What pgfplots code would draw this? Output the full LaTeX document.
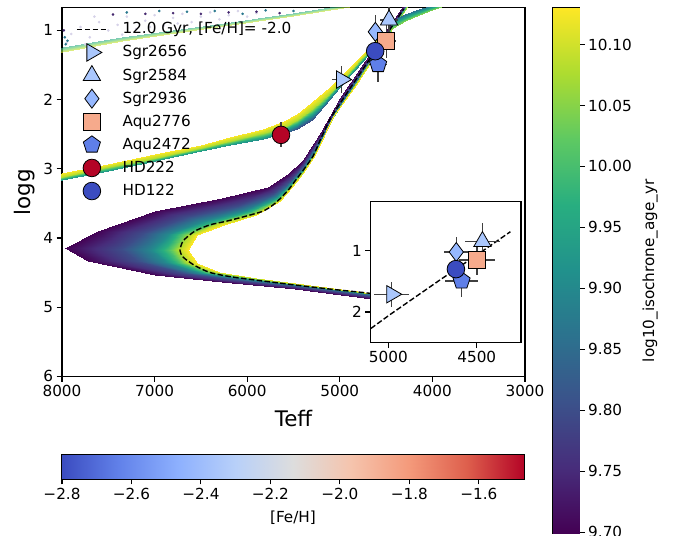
\documentclass[border=0pt]{standalone}
\usepackage{pgfplots}
\pgfplotsset{compat=1.18}
\usepackage{fontspec}
\setmainfont{DejaVu Sans}

\newcommand\fs{\fontsize{15.3}{18}\selectfont}
\newcommand\fl{\fontsize{21.5}{25}\selectfont}

\definecolor{sgrA}{RGB}{170,199,253}
\definecolor{sgrC}{RGB}{150,184,255}
\definecolor{aquA}{RGB}{246,170,140}
\definecolor{aquB}{RGB}{95,127,232}
\definecolor{hdA}{RGB}{180,4,38}
\definecolor{hdB}{RGB}{59,76,192}
\definecolor{errc}{RGB}{64,64,64}
\definecolor{faint}{RGB}{214,210,232}
\definecolor{vpur}{RGB}{68,40,110}
\definecolor{vteal}{RGB}{42,120,142}

\pgfplotsset{
  colormap={coolwarm}{rgb255=(59,76,192) rgb255=(98,130,234) rgb255=(141,176,254) rgb255=(184,208,249) rgb255=(221,221,221) rgb255=(245,196,173) rgb255=(244,154,123) rgb255=(222,96,77) rgb255=(180,4,38)},
  colormap={myviridis}{rgb255=(68,1,84) rgb255=(71,45,123) rgb255=(59,82,139) rgb255=(44,114,142) rgb255=(33,145,140) rgb255=(40,174,128) rgb255=(94,201,98) rgb255=(173,220,48) rgb255=(253,231,37)},
  myax/.style={scale only axis, axis line style={line width=1.1bp}, every tick/.style={line width=1.1bp, black}, major tick length=5.4bp, tick align=outside, tick label style={font=\fs}},
  errs/.style={error bars/x dir=both, error bars/x explicit, error bars/y dir=both, error bars/y explicit, error bars/error mark=none, error bars/error bar style={errc, line width=1.5bp}},
  mklegend/.style={legend image code/.code={\path[##1] plot coordinates {(0bp,0bp)};}},
  lnlegend/.style={legend image code/.code={\draw[##1] (-15bp,0bp) -- (15bp,0bp);}},
  isodash/.style={black, line width=1.4bp, dash pattern=on 5.5bp off 2.4bp},
}

\begin{document}
\begin{tikzpicture}
\path[use as bounding box] (0,0) rectangle (678bp,536bp);

% ---------------- main axis ----------------
\begin{axis}[myax,
  at={(62bp,159.7bp)}, anchor=south west, width=463bp, height=368.7bp,
  x dir=reverse, y dir=reverse,
  xmin=3000, xmax=8000, ymin=0.67, ymax=6,
  xtick={3000,4000,5000,6000,7000,8000}, xticklabels={3000,4000,5000,6000,7000,8000},
  ytick={1,2,3,4,5,6}, yticklabels={1,2,3,4,5,6},
  tick pos=left,
  colormap name=myviridis, point meta min=9.699, point meta max=10.13,
  xlabel={Teff}, ylabel={logg},
  every axis x label/.style={at={(axis description cs:0.5,0)}, yshift=-42bp, anchor=center, font=\fl},
  every axis y label/.style={at={(axis description cs:0,0.5)}, xshift=-37bp, rotate=90, anchor=center, font=\fl},
  legend style={draw=none, fill=none, at={(axis description cs:0,1)}, anchor=north west, xshift=14bp, yshift=-10bp, inner sep=0pt, row sep=0pt, font=\fs, nodes={inner sep=0pt, text height=16bp, text depth=7.1bp}, /tikz/every odd column/.append style={column sep=15bp}},
  legend cell align=left,
]
% isochrone band (MS, SGB, RGB)
\addplot[surf, shader=interp, forget plot, point meta=explicit] table[x=T, y=g, meta=a] {
T g a
4400 4.92 9.70
5484 4.74 9.70
6275 4.64 9.70
7000 4.53 9.70
7716 4.33 9.70
7968 4.15 9.70
7608 3.90 9.70
7000 3.61 9.70
6275 3.42 9.70
5772 3.27 9.70
5556 3.08 9.70
5400 2.88 9.70
5200 2.47 9.70
5000 1.98 9.70
4750 1.48 9.70
4520 1.05 9.70
4300 0.60 9.70

4400 4.88 9.80
5484 4.70 9.80
6103 4.61 9.80
6678 4.51 9.80
7175 4.34 9.80
7357 4.16 9.80
7117 3.93 9.80
6655 3.70 9.80
6103 3.54 9.80
5716 3.36 9.80
5539 3.17 9.80
5400 2.96 9.80
5232 2.62 9.80
5037 2.12 9.80
4787 1.62 9.80
4502 1.06 9.80
4268 0.59 9.80

4400 4.86 9.90
5484 4.68 9.90
6012 4.60 9.90
6510 4.50 9.90
6893 4.35 9.90
7038 4.17 9.90
6860 3.94 9.90
6475 3.75 9.90
6012 3.60 9.90
5687 3.41 9.90
5531 3.21 9.90
5400 3.01 9.90
5249 2.70 9.90
5056 2.19 9.90
4806 1.70 9.90
4492 1.06 9.90
4251 0.59 9.90

4400 4.85 10.00
5484 4.66 10.00
5960 4.59 10.00
6412 4.50 10.00
6728 4.36 10.00
6852 4.18 10.00
6711 3.95 10.00
6370 3.78 10.00
5960 3.63 10.00
5670 3.44 10.00
5526 3.24 10.00
5400 3.03 10.00
5259 2.75 10.00
5067 2.23 10.00
4817 1.74 10.00
4486 1.07 10.00
4241 0.58 10.00

4400 4.85 10.08
5484 4.66 10.08
5930 4.58 10.08
6356 4.49 10.08
6634 4.36 10.08
6746 4.18 10.08
6625 3.96 10.08
6310 3.79 10.08
5930 3.65 10.08
5660 3.45 10.08
5523 3.25 10.08
5400 3.05 10.08
5264 2.77 10.08
5074 2.25 10.08
4824 1.76 10.08
4483 1.07 10.08
4236 0.58 10.08

4400 4.84 10.13
5484 4.65 10.13
5900 4.58 10.13
6300 4.49 10.13
6540 4.36 10.13
6640 4.18 10.13
6540 3.96 10.13
6250 3.81 10.13
5900 3.67 10.13
5650 3.47 10.13
5520 3.27 10.13
5400 3.06 10.13
5270 2.80 10.13
5080 2.27 10.13
4830 1.79 10.13
4480 1.07 10.13
4230 0.58 10.13
};
% horizontal branch / AGB band
\addplot[surf, shader=interp, forget plot, point meta=explicit] table[x=T, y=g, meta=a] {
T g a
8050 3.08 10.13
7500 2.93 10.13
7000 2.79 10.13
6500 2.65 10.13
6186 2.54 10.13
5826 2.42 10.13
5600 2.31 10.13
5466 2.21 10.13
5300 2.04 10.13
5106 1.82 10.13
4950 1.62 10.13
4746 1.34 10.13
4600 1.12 10.13

8050 3.13 10.08
7500 2.98 10.08
7000 2.84 10.08
6500 2.70 10.08
6186 2.60 10.08
5826 2.49 10.08
5600 2.39 10.08
5466 2.30 10.08
5300 2.14 10.08
5106 1.90 10.08
4950 1.69 10.08
4746 1.39 10.08
4600 1.16 10.08

8050 3.18 9.92
7500 3.03 9.92
7000 2.89 9.92
6500 2.75 9.92
6186 2.65 9.92
5826 2.57 9.90
5600 2.49 9.85
5466 2.42 9.80
5300 2.30 9.80
5106 1.99 9.85
4950 1.75 9.90
4746 1.44 9.90
4600 1.19 9.90
};
% thin upper band
\addplot[surf, shader=interp, forget plot, opacity=0.6, point meta=explicit] table[x=T, y=g, meta=a] {
T g a
8050 1.33 10.10
7355 1.15 10.10
6400 0.97 10.10
5500 0.79 10.10
4900 0.66 10.10

8050 1.25 9.95
7355 1.09 9.95
6400 0.92 9.95
5500 0.75 9.95
4900 0.62 9.95
};
% RGB tip patch
\addplot[surf, shader=interp, forget plot, point meta=explicit] table[x=T, y=g, meta=a] {
T g a
4450 0.98 10.05
4300 0.86 10.05
4150 0.77 10.05
4000 0.70 10.05
3880 0.64 10.05

4450 0.86 9.85
4300 0.76 9.85
4150 0.69 9.85
4000 0.63 9.85
3880 0.58 9.85
};
% scattered points at top left
\addplot[only marks, mark=*, mark size=1.1bp, faint, forget plot] coordinates {
(7900,1.05) (7800,0.95) (7700,1.10) (7600,0.88) (7500,1.00) (7400,0.92) (7300,0.80) (7200,0.98) (7100,0.86) (7000,0.78) (6900,0.93) (6800,0.82) (6700,0.76) (6600,0.88) (6500,0.80) (6400,0.74) (6300,0.84) (6200,0.78) (6100,0.72) (6000,0.80) (5900,0.75) (7950,1.18) (7750,1.20) (7650,0.80) (7350,1.06) (7050,0.95) (6750,0.90)
};
\addplot[only marks, mark=*, mark size=1.1bp, vpur, forget plot] coordinates {
(7450,0.77) (7100,0.76) (6800,0.75) (6500,0.76) (6200,0.74) (5900,0.73) (5650,0.75) (7980,1.00)
};
\addplot[only marks, mark=*, mark size=1.1bp, vteal, forget plot] coordinates {
(7300,0.74) (6950,0.72) (6650,0.73) (6350,0.72) (6050,0.76) (5800,0.71) (5500,0.72) (7970,1.10) (7960,1.20) (7940,1.15)
};
% 12 Gyr isochrone
\addplot[isodash, smooth, tension=0.4, lnlegend] table[x=T, y=g] {
T g
4400 4.86
4674 4.80
5100 4.74
5484 4.68
6132 4.57
6400 4.50
6564 4.40
6690 4.28
6726 4.18
6690 4.04
6564 3.90
6400 3.81
6200 3.75
5844 3.62
5718 3.52
5620 3.40
5540 3.28
5480 3.17
5400 3.03
5290 2.82
5200 2.55
5100 2.27
4990 2.04
4850 1.76
4700 1.46
4500 1.07
4310 0.69
};
\addlegendentry{12.0 Gyr, [Fe/H]= -2.0}
\addplot[only marks, mark=triangle*, mark size=10bp, mark options={rotate=-90, fill=sgrA, draw=black, line width=0.8bp}, mklegend, errs] table[x=T, y=g, x error=dT, y error=dg] {
T g dT dg
4981 1.71 100 0.20
};
\addlegendentry{Sgr2656}
\addplot[only marks, mark=triangle*, mark size=10bp, mark options={fill=sgrA, draw=black, line width=0.8bp}, mklegend, errs] table[x=T, y=g, x error=dT, y error=dg] {
T g dT dg
4468 0.85 100 0.30
};
\addlegendentry{Sgr2584}
\addplot[only marks, mark=diamond*, mark size=9.5bp, mark options={fill=sgrC, draw=black, line width=0.8bp}, mklegend, errs] table[x=T, y=g, x error=dT, y error=dg] {
T g dT dg
4616 1.02 70 0.25
};
\addlegendentry{Sgr2936}
\addplot[only marks, mark=square*, mark size=8.5bp, mark options={fill=aquA, draw=black, line width=0.8bp}, mklegend, errs] table[x=T, y=g, x error=dT, y error=dg] {
T g dT dg
4498 1.15 100 0.25
};
\addlegendentry{Aqu2776}
\addplot[only marks, mark=pentagon*, mark size=9bp, mark options={fill=aquB, draw=black, line width=0.8bp}, mklegend, errs] table[x=T, y=g, x error=dT, y error=dg] {
T g dT dg
4586 1.49 95 0.26
};
\addlegendentry{Aqu2472}
\addplot[only marks, mark=*, mark size=8.8bp, mark options={fill=hdA, draw=black, line width=0.8bp}, mklegend, errs] table[x=T, y=g, x error=dT, y error=dg] {
T g dT dg
5635 2.51 50 0.18
};
\addlegendentry{HD222}
\addplot[only marks, mark=*, mark size=8.8bp, mark options={fill=hdB, draw=black, line width=0.8bp}, mklegend, errs] table[x=T, y=g, x error=dT, y error=dg] {
T g dT dg
4618 1.30 40 0.08
};
\addlegendentry{HD122}
\end{axis}

% ---------------- inset ----------------
\begin{axis}[myax,
  at={(370.7bp,193.3bp)}, anchor=south west, width=150.3bp, height=141bp,
  x dir=reverse, y dir=reverse, xmin=4250, xmax=5100, ymin=0.2, ymax=2.5,
  xtick={4500,5000}, xticklabels={4500,5000}, ytick={1,2}, yticklabels={1,2},
  tick pos=left, axis background/.style={fill=white},
]
\addplot[isodash] table[x=T, y=g] {
T g
5400 3.03
5290 2.82
5200 2.55
5100 2.27
4990 2.04
4850 1.76
4700 1.46
4500 1.07
4310 0.69
};
\addplot[only marks, mark=triangle*, mark size=10bp, mark options={rotate=-90, fill=sgrA, draw=black, line width=0.8bp}, errs] table[x=T, y=g, x error=dT, y error=dg] {
T g dT dg
4981 1.71 100 0.20
};
\addplot[only marks, mark=triangle*, mark size=10bp, mark options={fill=sgrA, draw=black, line width=0.8bp}, errs] table[x=T, y=g, x error=dT, y error=dg] {
T g dT dg
4468 0.85 100 0.30
};
\addplot[only marks, mark=diamond*, mark size=9.5bp, mark options={fill=sgrC, draw=black, line width=0.8bp}, errs] table[x=T, y=g, x error=dT, y error=dg] {
T g dT dg
4616 1.02 70 0.25
};
\addplot[only marks, mark=square*, mark size=8.5bp, mark options={fill=aquA, draw=black, line width=0.8bp}, errs] table[x=T, y=g, x error=dT, y error=dg] {
T g dT dg
4498 1.15 100 0.25
};
\addplot[only marks, mark=pentagon*, mark size=9bp, mark options={fill=aquB, draw=black, line width=0.8bp}, errs] table[x=T, y=g, x error=dT, y error=dg] {
T g dT dg
4586 1.49 95 0.26
};
\addplot[only marks, mark=*, mark size=8.8bp, mark options={fill=hdB, draw=black, line width=0.8bp}, errs] table[x=T, y=g, x error=dT, y error=dg] {
T g dT dg
4618 1.30 40 0.08
};
\end{axis}

% ---------------- age colorbar ----------------
\begin{axis}[myax,
  at={(553bp,2.7bp)}, anchor=south west, width=26.3bp, height=525.3bp,
  xmin=0, xmax=1, ymin=9.699, ymax=10.13,
  colormap name=myviridis, point meta min=9.699, point meta max=10.13,
  xtick=\empty, ytick={9.70,9.75,9.80,9.85,9.90,9.95,10.00,10.05,10.10},
  yticklabels={9.70,9.75,9.80,9.85,9.90,9.95,10.00,10.05,10.10},
  tick pos=right, yticklabel pos=right,
  ylabel={log10\_isochrone\_age\_yr},
  every axis y label/.style={at={(axis description cs:1,0.5)}, xshift=70.7bp, rotate=90, anchor=center, font=\fs},
]
\addplot[surf, shader=interp, point meta=y] table {
x y
0 9.699
1 9.699

0 10.13
1 10.13
};
\end{axis}

% ---------------- [Fe/H] colorbar ----------------
\begin{axis}[myax,
  at={(62bp,57bp)}, anchor=south west, width=462bp, height=24bp,
  xmin=-2.8, xmax=-1.47, ymin=0, ymax=1,
  colormap name=coolwarm, point meta min=-2.8, point meta max=-1.47,
  ytick=\empty, xtick={-2.8,-2.6,-2.4,-2.2,-2.0,-1.8,-1.6},
  xticklabels={−2.8,−2.6,−2.4,−2.2,−2.0,−1.8,−1.6},
  tick pos=left,
  xlabel={[Fe/H]},
  every axis x label/.style={at={(axis description cs:0.5,0)}, yshift=-39bp, anchor=center, font=\fs},
]
\addplot[surf, shader=interp, point meta=x] table {
x y
-2.8 0
-1.47 0

-2.8 1
-1.47 1
};
\end{axis}
\end{tikzpicture}
\end{document}
